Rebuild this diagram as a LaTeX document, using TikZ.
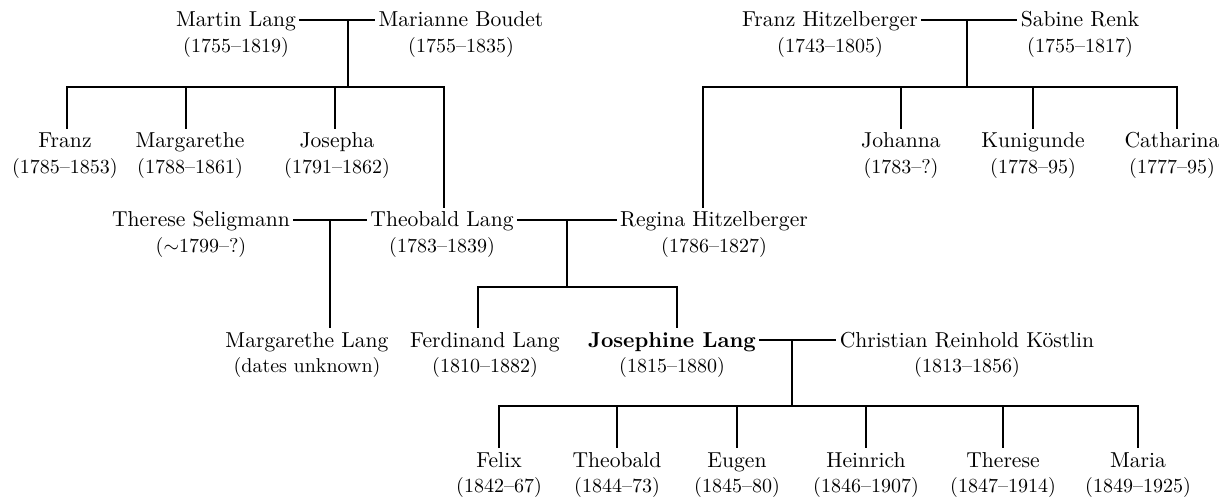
\documentclass[tikz,border=0pt]{standalone}
\usetikzlibrary{positioning}
\begin{document}
\begin{tikzpicture}[x=0.5pt, y=-0.5pt,
    person/.style={inner sep=1.5pt, text height=8pt, text depth=1pt,
        font=\fontsize{10.8}{13}\selectfont},
    dates/.style={inner sep=1.5pt, text height=7pt, text depth=2.5pt,
        font=\fontsize{10}{12}\selectfont},
    link/.style={line width=0.6pt},
    marriage/.style={line width=1.2pt}]
    \useasboundingbox (0,0) rectangle (1226,497);

    % Lang grandparents
    \node[person] (martin) at (236,20) {Martin Lang};
    \node[dates, below=1.5pt of martin] (martin-d) {(1755--1819)};
    \node[person] (marianne) at (461,20) {Marianne Boudet};
    \node[dates, below=1.5pt of marianne] (marianne-d) {(1755--1835)};

    % Hitzelberger grandparents
    \node[person] (franzh) at (830,20) {Franz Hitzelberger};
    \node[dates, below=1.5pt of franzh] (franzh-d) {(1743--1805)};
    \node[person] (sabine) at (1080,20) {Sabine Renk};
    \node[dates, below=1.5pt of sabine] (sabine-d) {(1755--1817)};

    % their children
    \node[person] (franz) at (65,141) {Franz};
    \node[dates, below=1.5pt of franz] (franz-d) {(1785--1853)};
    \node[person] (margarethe) at (190,141) {Margarethe};
    \node[dates, below=1.5pt of margarethe] (margarethe-d) {(1788--1861)};
    \node[person] (josepha) at (337,141) {Josepha};
    \node[dates, below=1.5pt of josepha] (josepha-d) {(1791--1862)};
    \node[person] (johanna) at (901,141) {Johanna};
    \node[dates, below=1.5pt of johanna] (johanna-d) {(1783--?)};
    \node[person] (kunigunde) at (1033,141) {Kunigunde};
    \node[dates, below=1.5pt of kunigunde] (kunigunde-d) {(1778--95)};
    \node[person] (catharina) at (1172,141) {Catharina};
    \node[dates, below=1.5pt of catharina] (catharina-d) {(1777--95)};

    % parents
    \node[person] (therese) at (201,220) {Therese Seligmann};
    \node[dates, below=1.5pt of therese] (therese-d) {($\sim$1799--?)};
    \node[person] (theobald) at (442,220) {Theobald Lang};
    \node[dates, below=1.5pt of theobald] (theobald-d) {(1783--1839)};
    \node[person] (regina) at (714,220) {Regina Hitzelberger};
    \node[dates, below=1.5pt of regina] (regina-d) {(1786--1827)};

    % Josephine and her siblings
    \node[person] (margl) at (307,340) {Margarethe Lang};
    \node[dates, below=1.5pt of margl] (margl-d) {(dates unknown)};
    \node[person] (ferdinand) at (485,340) {Ferdinand Lang};
    \node[dates, below=1.5pt of ferdinand] (ferdinand-d) {(1810--1882)};
    \node[person] (josephine) at (672,340) {\textbf{Josephine Lang}};
    \node[dates, below=1.5pt of josephine] (josephine-d) {(1815--1880)};
    \node[person] (christian) at (967,340) {Christian Reinhold Köstlin};
    \node[dates, below=1.5pt of christian] (christian-d) {(1813--1856)};

    % Josephine's children
    \node[person] (felix) at (499,460) {Felix};
    \node[dates, below=1.5pt of felix] (felix-d) {(1842--67)};
    \node[person] (theobaldk) at (617,460) {Theobald};
    \node[dates, below=1.5pt of theobaldk] (theobaldk-d) {(1844--73)};
    \node[person] (eugen) at (737,460) {Eugen};
    \node[dates, below=1.5pt of eugen] (eugen-d) {(1845--80)};
    \node[person] (heinrich) at (866,460) {Heinrich};
    \node[dates, below=1.5pt of heinrich] (heinrich-d) {(1846--1907)};
    \node[person] (theresek) at (1003,460) {Therese};
    \node[dates, below=1.5pt of theresek] (theresek-d) {(1847--1914)};
    \node[person] (maria) at (1138,460) {Maria};
    \node[dates, below=1.5pt of maria] (maria-d) {(1849--1925)};

    % junctions of the marriage lines
    \coordinate (lang-j) at (348,20);
    \coordinate (lang-bar) at (348,87);
    \coordinate (hitz-j) at (967,20);
    \coordinate (hitz-bar) at (967,87);
    \coordinate (sel-j) at (330,220);
    \coordinate (tr-j) at (567,220);
    \coordinate (tr-bar) at (567,287);
    \coordinate (jk-j) at (792,340);
    \coordinate (jk-bar) at (792,406);

    % Lang family
    \draw[link] (martin.east) -- (marianne.west);
    \draw[link] (lang-j) -- (lang-bar);
    \draw[link] (lang-bar) -| ([xshift=1pt]franz.north);
    \draw[link] (lang-bar) -| ([xshift=-2pt]margarethe.north);
    \draw[link] (lang-bar) -| ([xshift=-1pt]josepha.north);
    \draw[link] (lang-bar) -| ([xshift=1pt]theobald.north);

    % Hitzelberger family
    \draw[link] (franzh.east) -- (sabine.west);
    \draw[link] (hitz-j) -- (hitz-bar);
    \draw[link] (hitz-bar) -| ([xshift=-5.5pt]regina.north);
    \draw[link] (hitz-bar) -| (johanna.north);
    \draw[link] (hitz-bar) -| (kunigunde.north);
    \draw[link] (hitz-bar) -| ([xshift=2.5pt]catharina.north);

    % Theobald's two unions
    \draw[link] (therese.east) -- (theobald.west);
    \draw[link] (sel-j) -- (sel-j |- margl.north);
    \draw[marriage] (theobald.east) -- (regina.west);
    \draw[link] (tr-j) -- (tr-bar);
    \draw[link] (tr-bar) -| ([xshift=-3.5pt]ferdinand.north);
    \draw[link] (tr-bar) -| ([xshift=2.5pt]josephine.north);

    % Josephine Lang and Christian Reinhold Köstlin
    \draw[link] (josephine.east) -- (christian.west);
    \draw[link] (jk-j) -- (jk-bar);
    \draw[link] (jk-bar) -| (felix.north);
    \draw[link] (jk-bar) -| (theobaldk.north);
    \draw[link] (jk-bar) -| (eugen.north);
    \draw[link] (jk-bar) -| (heinrich.north);
    \draw[link] (jk-bar) -| (theresek.north);
    \draw[link] (jk-bar) -| (maria.north);
\end{tikzpicture}
\end{document}
